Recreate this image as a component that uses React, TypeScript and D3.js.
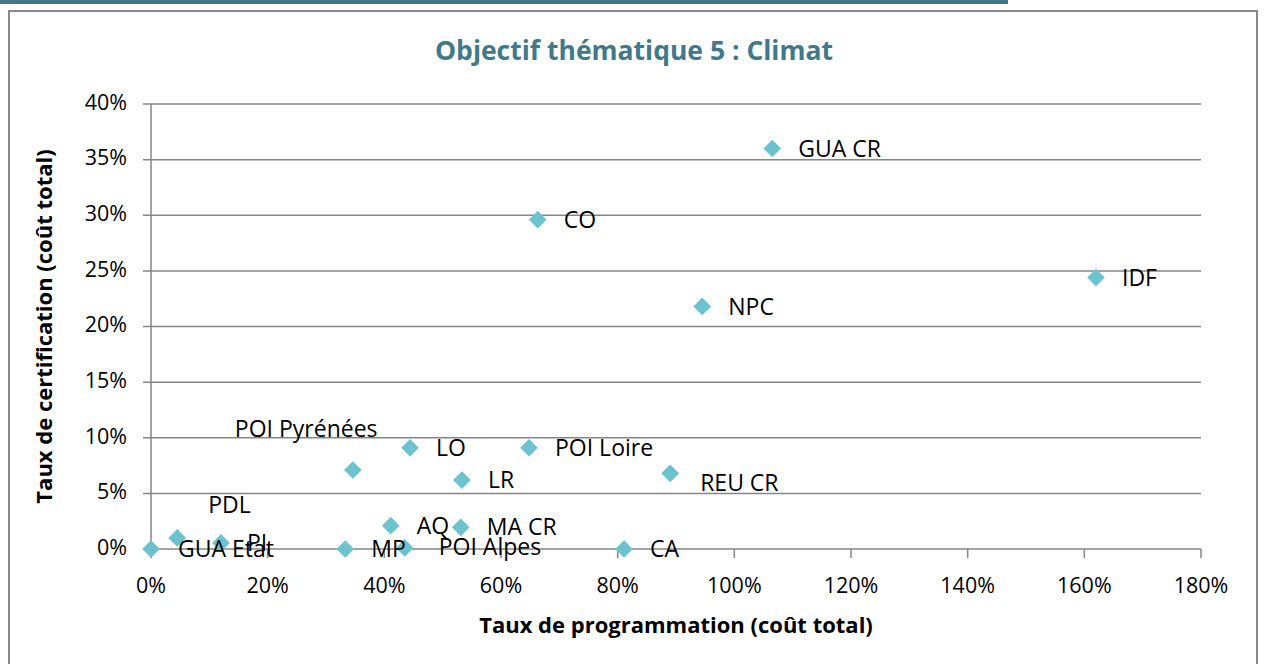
import React from 'react';
import * as d3 from 'd3';

// Chart values
const regions = ['GUA Etat', 'PDL', 'PI', 'POI Pyrénées', 'MP', 'AQ', 'POI Alpes', 'LO', 'LR', 'MA CR', 'POI Loire', 'CO', 'CA', 'REU CR', 'NPC', 'GUA CR', 'IDF'];
const programmation = [0.0, 4.5, 12.0, 34.6, 33.3, 41.1, 43.5, 44.4, 53.3, 53.1, 64.8, 66.3, 81.1, 89.0, 94.5, 106.5, 162.0];
const certification = [0.0, 1.0, 0.55, 7.1, 0.0, 2.1, 0.1, 9.1, 6.2, 1.95, 9.1, 29.6, 0.0, 6.8, 21.8, 36.0, 24.4];
const xTicks = [0, 20, 40, 60, 80, 100, 120, 140, 160, 180];
const yTicks = [0, 5, 10, 15, 20, 25, 30, 35, 40];

// label placement (Excel moved a few of them by hand)
const labelOffsets: Record<string, [number, number]> = {
  'POI Pyrénées': [-118, -39],
  'REU CR': [30, 11],
  'PDL': [31, -31],
  'POI Alpes': [34, 1],
  'GUA Etat': [27, 2],
};

const W = 1264;
const H = 664;
const margin = { left: 151, right: 63, top: 104, bottom: 115 };
const font = "'Open Sans', sans-serif";

export default function App() {
  const x = d3.scaleLinear().domain([0, 180]).range([margin.left, W - margin.right]);
  const y = d3.scaleLinear().domain([0, 40]).range([H - margin.bottom, margin.top]);
  const diamond = d3.symbol().type(d3.symbolDiamond2).size(200)();
  const fmt = (v: number) => `${v}%`;

  return (
    <svg width={W} height={H} style={{ position: 'absolute', left: 0, top: 0, background: '#fff' }}>
      <rect x={0} y={0} width={1008} height={4} fill="#3f7888" />
      <rect x={9} y={11} width={1248} height={H} fill="#fff" stroke="#888" strokeWidth={2} />

      <text x={634} y={53} textAnchor="middle" dominantBaseline="middle" fontFamily={font}
        fontWeight="bold" fontSize={26.5} fill="#41788a">Objectif thématique 5 : Climat</text>

      {/* grid + y ticks */}
      {yTicks.map(t => (
        <g key={t}>
          <line x1={143} x2={x(180)} y1={y(t)} y2={y(t)} stroke="#868686" strokeWidth={1.5} />
          <text x={127} y={y(t)} textAnchor="end" dominantBaseline="middle" fontFamily={font}
            fontSize={21.5} fill="#000">{fmt(t)}</text>
        </g>
      ))}
      <line x1={x(0)} x2={x(0)} y1={y(40)} y2={y(0)} stroke="#868686" strokeWidth={1.5} />

      {/* x ticks */}
      {xTicks.map(t => (
        <g key={t}>
          <line x1={x(t)} x2={x(t)} y1={y(0)} y2={y(0) + 9} stroke="#868686" strokeWidth={1.5} />
          <text x={x(t)} y={587} textAnchor="middle" dominantBaseline="middle" fontFamily={font}
            fontSize={21.5} fill="#000">{fmt(t)}</text>
        </g>
      ))}

      <text x={676} y={627} textAnchor="middle" dominantBaseline="middle" fontFamily={font}
        fontWeight="bold" fontSize={22} fill="#000">Taux de programmation (coût total)</text>
      <text transform={`translate(46, ${y(20)}) rotate(-90)`} textAnchor="middle" dominantBaseline="middle"
        fontFamily={font} fontWeight="bold" fontSize={22} fill="#000">Taux de certification (coût total)</text>

      {regions.map((r, i) => (
        <path key={r} d={diamond} transform={`translate(${x(programmation[i])},${y(certification[i])})`}
          fill="#6cc3cf" />
      ))}
      {regions.map((r, i) => {
        const [dx, dy] = labelOffsets[r] || [26, 2];
        return (
          <text key={r} x={x(programmation[i]) + dx} y={y(certification[i]) + dy} dominantBaseline="middle"
            fontFamily={font} fontSize={23} fill="#000">{r}</text>
        );
      })}
    </svg>
  );
}
